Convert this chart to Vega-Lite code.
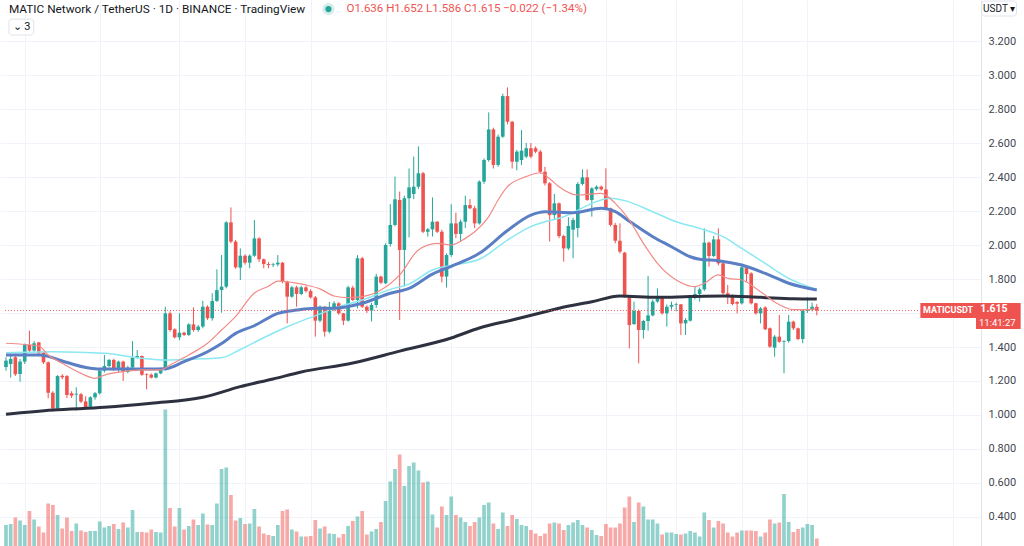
{
"$schema":"https://vega.github.io/schema/vega-lite/v6.json",
"width":981,"height":546,
"autosize":{"type":"none"},
"padding":{"left":0,"top":0,"right":43,"bottom":0},
"background":"#ffffff",
"config":{"view":{"stroke":null},"axis":{"labelFont":"Roboto","labelOverlap":false},"text":{"font":"Roboto"}},
"datasets":{
"one":[{"a":1}],
"candles":[
{"k":0,"o":1.282,"h":1.34,"l":1.26,"c":1.32,"v":70},
{"k":1,"o":1.30,"h":1.35,"l":1.22,"c":1.33,"v":72},
{"k":2,"o":1.339,"h":1.36,"l":1.23,"c":1.239,"v":85},
{"k":3,"o":1.241,"h":1.33,"l":1.196,"c":1.314,"v":79},
{"k":4,"o":1.314,"h":1.42,"l":1.30,"c":1.412,"v":70},
{"k":5,"o":1.412,"h":1.496,"l":1.37,"c":1.379,"v":98},
{"k":6,"o":1.379,"h":1.435,"l":1.37,"c":1.422,"v":81},
{"k":7,"o":1.427,"h":1.43,"l":1.35,"c":1.363,"v":67},
{"k":8,"o":1.367,"h":1.37,"l":1.30,"c":1.31,"v":55},
{"k":9,"o":1.31,"h":1.315,"l":1.098,"c":1.131,"v":113},
{"k":10,"o":1.131,"h":1.14,"l":1.02,"c":1.039,"v":110},
{"k":11,"o":1.039,"h":1.235,"l":1.035,"c":1.229,"v":90},
{"k":12,"o":1.231,"h":1.24,"l":1.21,"c":1.222,"v":63},
{"k":13,"o":1.229,"h":1.235,"l":1.10,"c":1.118,"v":85},
{"k":14,"o":1.128,"h":1.14,"l":1.10,"c":1.114,"v":58},
{"k":15,"o":1.12,"h":1.163,"l":1.026,"c":1.125,"v":73},
{"k":16,"o":1.122,"h":1.13,"l":1.07,"c":1.079,"v":59},
{"k":17,"o":1.08,"h":1.11,"l":1.04,"c":1.045,"v":56},
{"k":18,"o":1.049,"h":1.11,"l":1.045,"c":1.104,"v":58},
{"k":19,"o":1.104,"h":1.135,"l":1.09,"c":1.128,"v":58},
{"k":20,"o":1.128,"h":1.27,"l":1.12,"c":1.261,"v":77},
{"k":21,"o":1.261,"h":1.353,"l":1.25,"c":1.288,"v":65},
{"k":22,"o":1.288,"h":1.33,"l":1.28,"c":1.324,"v":68},
{"k":23,"o":1.324,"h":1.33,"l":1.26,"c":1.273,"v":72},
{"k":24,"o":1.273,"h":1.32,"l":1.25,"c":1.314,"v":62},
{"k":25,"o":1.314,"h":1.32,"l":1.20,"c":1.253,"v":75},
{"k":26,"o":1.253,"h":1.29,"l":1.245,"c":1.28,"v":65},
{"k":27,"o":1.28,"h":1.435,"l":1.27,"c":1.339,"v":100},
{"k":28,"o":1.339,"h":1.382,"l":1.33,"c":1.347,"v":56},
{"k":29,"o":1.347,"h":1.35,"l":1.23,"c":1.237,"v":56},
{"k":30,"o":1.241,"h":1.245,"l":1.151,"c":1.237,"v":55},
{"k":31,"o":1.237,"h":1.245,"l":1.215,"c":1.22,"v":61},
{"k":32,"o":1.22,"h":1.25,"l":1.215,"c":1.245,"v":56},
{"k":33,"o":1.245,"h":1.275,"l":1.24,"c":1.269,"v":55},
{"k":34,"o":1.269,"h":1.637,"l":1.26,"c":1.598,"v":301},
{"k":35,"o":1.598,"h":1.61,"l":1.49,"c":1.5,"v":104},
{"k":36,"o":1.504,"h":1.51,"l":1.45,"c":1.457,"v":67},
{"k":37,"o":1.457,"h":1.598,"l":1.44,"c":1.484,"v":104},
{"k":38,"o":1.484,"h":1.49,"l":1.465,"c":1.471,"v":61},
{"k":39,"o":1.471,"h":1.54,"l":1.465,"c":1.533,"v":68},
{"k":40,"o":1.533,"h":1.633,"l":1.49,"c":1.5,"v":81},
{"k":41,"o":1.5,"h":1.53,"l":1.49,"c":1.52,"v":70},
{"k":42,"o":1.52,"h":1.672,"l":1.51,"c":1.637,"v":93},
{"k":43,"o":1.637,"h":1.645,"l":1.56,"c":1.569,"v":71},
{"k":44,"o":1.569,"h":1.716,"l":1.555,"c":1.671,"v":70},
{"k":45,"o":1.671,"h":1.857,"l":1.665,"c":1.735,"v":113},
{"k":46,"o":1.735,"h":1.941,"l":1.602,"c":1.755,"v":182},
{"k":47,"o":1.755,"h":2.14,"l":1.745,"c":2.133,"v":185},
{"k":48,"o":2.133,"h":2.221,"l":2.01,"c":2.02,"v":130},
{"k":49,"o":2.02,"h":2.03,"l":1.86,"c":1.869,"v":79},
{"k":50,"o":1.867,"h":1.98,"l":1.794,"c":1.937,"v":84},
{"k":51,"o":1.937,"h":1.945,"l":1.885,"c":1.896,"v":72},
{"k":52,"o":1.896,"h":1.945,"l":1.863,"c":1.937,"v":73},
{"k":53,"o":1.937,"h":2.147,"l":1.93,"c":2.039,"v":102},
{"k":54,"o":2.039,"h":2.045,"l":1.90,"c":1.916,"v":67},
{"k":55,"o":1.916,"h":1.92,"l":1.863,"c":1.888,"v":53},
{"k":56,"o":1.888,"h":1.90,"l":1.863,"c":1.882,"v":50},
{"k":57,"o":1.882,"h":1.895,"l":1.87,"c":1.886,"v":48},
{"k":58,"o":1.886,"h":1.941,"l":1.875,"c":1.896,"v":70},
{"k":59,"o":1.896,"h":1.90,"l":1.775,"c":1.784,"v":98},
{"k":60,"o":1.784,"h":1.79,"l":1.539,"c":1.696,"v":101},
{"k":61,"o":1.696,"h":1.76,"l":1.69,"c":1.751,"v":61},
{"k":62,"o":1.751,"h":1.76,"l":1.637,"c":1.712,"v":57},
{"k":63,"o":1.712,"h":1.76,"l":1.705,"c":1.751,"v":47},
{"k":64,"o":1.751,"h":1.76,"l":1.72,"c":1.729,"v":47},
{"k":65,"o":1.729,"h":1.74,"l":1.685,"c":1.692,"v":48},
{"k":66,"o":1.692,"h":1.70,"l":1.461,"c":1.555,"v":80},
{"k":67,"o":1.555,"h":1.645,"l":1.545,"c":1.637,"v":63},
{"k":68,"o":1.637,"h":1.64,"l":1.461,"c":1.49,"v":67},
{"k":69,"o":1.49,"h":1.665,"l":1.48,"c":1.625,"v":53},
{"k":70,"o":1.625,"h":1.67,"l":1.61,"c":1.657,"v":52},
{"k":71,"o":1.657,"h":1.665,"l":1.59,"c":1.598,"v":45},
{"k":72,"o":1.598,"h":1.60,"l":1.529,"c":1.555,"v":52},
{"k":73,"o":1.555,"h":1.76,"l":1.55,"c":1.751,"v":68},
{"k":74,"o":1.749,"h":1.76,"l":1.67,"c":1.676,"v":78},
{"k":75,"o":1.676,"h":1.94,"l":1.627,"c":1.922,"v":87},
{"k":76,"o":1.922,"h":1.93,"l":1.63,"c":1.637,"v":98},
{"k":77,"o":1.637,"h":1.645,"l":1.60,"c":1.614,"v":51},
{"k":78,"o":1.614,"h":1.66,"l":1.55,"c":1.647,"v":57},
{"k":79,"o":1.647,"h":1.83,"l":1.63,"c":1.814,"v":62},
{"k":80,"o":1.814,"h":1.82,"l":1.77,"c":1.778,"v":76},
{"k":81,"o":1.775,"h":2.01,"l":1.77,"c":2.0,"v":118},
{"k":82,"o":2.006,"h":2.24,"l":1.99,"c":2.118,"v":157},
{"k":83,"o":2.118,"h":2.402,"l":2.11,"c":2.269,"v":182},
{"k":84,"o":2.265,"h":2.314,"l":1.559,"c":1.971,"v":211},
{"k":85,"o":1.971,"h":2.29,"l":1.755,"c":2.275,"v":148},
{"k":86,"o":2.275,"h":2.45,"l":2.045,"c":2.339,"v":188},
{"k":87,"o":2.30,"h":2.52,"l":2.27,"c":2.343,"v":195},
{"k":88,"o":2.343,"h":2.58,"l":2.33,"c":2.422,"v":179},
{"k":89,"o":2.422,"h":2.43,"l":2.07,"c":2.078,"v":155},
{"k":90,"o":2.078,"h":2.10,"l":2.05,"c":2.092,"v":157},
{"k":91,"o":2.092,"h":2.28,"l":2.05,"c":2.137,"v":91},
{"k":92,"o":2.137,"h":2.14,"l":2.07,"c":2.078,"v":65},
{"k":93,"o":2.078,"h":2.09,"l":1.78,"c":1.814,"v":107},
{"k":94,"o":1.814,"h":1.95,"l":1.75,"c":1.941,"v":90},
{"k":95,"o":1.941,"h":2.24,"l":1.93,"c":2.127,"v":127},
{"k":96,"o":2.127,"h":2.19,"l":2.04,"c":2.065,"v":90},
{"k":97,"o":2.065,"h":2.15,"l":2.02,"c":2.137,"v":85},
{"k":98,"o":2.137,"h":2.29,"l":2.10,"c":2.235,"v":76},
{"k":99,"o":2.235,"h":2.27,"l":2.21,"c":2.216,"v":68},
{"k":100,"o":2.216,"h":2.23,"l":2.10,"c":2.127,"v":76},
{"k":101,"o":2.127,"h":2.38,"l":2.12,"c":2.373,"v":85},
{"k":102,"o":2.373,"h":2.51,"l":2.36,"c":2.5,"v":110},
{"k":103,"o":2.5,"h":2.78,"l":2.49,"c":2.68,"v":115},
{"k":104,"o":2.68,"h":2.69,"l":2.45,"c":2.471,"v":73},
{"k":105,"o":2.471,"h":2.65,"l":2.46,"c":2.637,"v":62},
{"k":106,"o":2.637,"h":2.89,"l":2.63,"c":2.876,"v":95},
{"k":107,"o":2.876,"h":2.927,"l":2.71,"c":2.725,"v":68},
{"k":108,"o":2.725,"h":2.73,"l":2.45,"c":2.49,"v":90},
{"k":109,"o":2.49,"h":2.56,"l":2.44,"c":2.549,"v":82},
{"k":110,"o":2.50,"h":2.676,"l":2.47,"c":2.555,"v":70},
{"k":111,"o":2.52,"h":2.60,"l":2.51,"c":2.569,"v":68},
{"k":112,"o":2.569,"h":2.60,"l":2.51,"c":2.52,"v":60},
{"k":113,"o":2.569,"h":2.58,"l":2.54,"c":2.549,"v":53},
{"k":114,"o":2.549,"h":2.56,"l":2.42,"c":2.431,"v":48},
{"k":115,"o":2.431,"h":2.46,"l":2.35,"c":2.363,"v":53},
{"k":116,"o":2.363,"h":2.37,"l":2.02,"c":2.176,"v":73},
{"k":117,"o":2.176,"h":2.30,"l":2.15,"c":2.245,"v":75},
{"k":118,"o":2.245,"h":2.25,"l":2.04,"c":2.053,"v":73},
{"k":119,"o":2.053,"h":2.06,"l":1.902,"c":1.98,"v":60},
{"k":120,"o":1.98,"h":2.163,"l":1.97,"c":2.112,"v":70},
{"k":121,"o":2.09,"h":2.16,"l":1.922,"c":2.147,"v":75},
{"k":122,"o":2.10,"h":2.37,"l":2.045,"c":2.359,"v":80},
{"k":123,"o":2.359,"h":2.445,"l":2.35,"c":2.398,"v":70},
{"k":124,"o":2.398,"h":2.445,"l":2.26,"c":2.265,"v":65},
{"k":125,"o":2.265,"h":2.34,"l":2.167,"c":2.333,"v":60},
{"k":126,"o":2.329,"h":2.35,"l":2.32,"c":2.343,"v":50},
{"k":127,"o":2.343,"h":2.35,"l":2.32,"c":2.327,"v":48},
{"k":128,"o":2.327,"h":2.451,"l":2.21,"c":2.216,"v":72},
{"k":129,"o":2.216,"h":2.22,"l":2.11,"c":2.118,"v":65},
{"k":130,"o":2.118,"h":2.13,"l":2.01,"c":2.025,"v":65},
{"k":131,"o":2.025,"h":2.127,"l":1.95,"c":1.961,"v":73},
{"k":132,"o":1.955,"h":1.96,"l":1.69,"c":1.696,"v":105},
{"k":133,"o":1.696,"h":1.70,"l":1.392,"c":1.529,"v":127},
{"k":134,"o":1.535,"h":1.667,"l":1.53,"c":1.612,"v":76},
{"k":135,"o":1.612,"h":1.62,"l":1.304,"c":1.5,"v":115},
{"k":136,"o":1.5,"h":1.56,"l":1.45,"c":1.553,"v":107},
{"k":137,"o":1.553,"h":1.818,"l":1.496,"c":1.586,"v":81},
{"k":138,"o":1.586,"h":1.68,"l":1.58,"c":1.667,"v":81},
{"k":139,"o":1.667,"h":1.745,"l":1.66,"c":1.696,"v":73},
{"k":140,"o":1.696,"h":1.70,"l":1.59,"c":1.598,"v":51},
{"k":141,"o":1.598,"h":1.65,"l":1.52,"c":1.637,"v":55},
{"k":142,"o":1.637,"h":1.667,"l":1.62,"c":1.647,"v":55},
{"k":143,"o":1.647,"h":1.66,"l":1.61,"c":1.651,"v":52},
{"k":144,"o":1.651,"h":1.653,"l":1.471,"c":1.539,"v":51},
{"k":145,"o":1.539,"h":1.57,"l":1.471,"c":1.559,"v":53},
{"k":146,"o":1.555,"h":1.70,"l":1.55,"c":1.692,"v":58},
{"k":147,"o":1.692,"h":1.755,"l":1.68,"c":1.712,"v":55},
{"k":148,"o":1.712,"h":1.75,"l":1.667,"c":1.739,"v":47},
{"k":149,"o":1.739,"h":2.098,"l":1.73,"c":2.014,"v":95},
{"k":150,"o":2.014,"h":2.02,"l":1.873,"c":1.935,"v":80},
{"k":151,"o":1.935,"h":2.053,"l":1.93,"c":2.033,"v":65},
{"k":152,"o":2.033,"h":2.098,"l":1.88,"c":1.892,"v":78},
{"k":153,"o":1.892,"h":1.90,"l":1.71,"c":1.716,"v":73},
{"k":154,"o":1.716,"h":1.765,"l":1.653,"c":1.70,"v":55},
{"k":155,"o":1.70,"h":1.71,"l":1.645,"c":1.653,"v":47},
{"k":156,"o":1.665,"h":1.67,"l":1.598,"c":1.655,"v":55},
{"k":157,"o":1.657,"h":1.875,"l":1.65,"c":1.869,"v":59},
{"k":158,"o":1.869,"h":1.875,"l":1.784,"c":1.829,"v":59},
{"k":159,"o":1.833,"h":1.84,"l":1.65,"c":1.657,"v":59},
{"k":160,"o":1.657,"h":1.66,"l":1.59,"c":1.598,"v":58},
{"k":161,"o":1.598,"h":1.635,"l":1.539,"c":1.627,"v":47},
{"k":162,"o":1.633,"h":1.64,"l":1.50,"c":1.504,"v":55},
{"k":163,"o":1.51,"h":1.515,"l":1.395,"c":1.402,"v":81},
{"k":164,"o":1.396,"h":1.47,"l":1.343,"c":1.461,"v":73},
{"k":165,"o":1.461,"h":1.588,"l":1.425,"c":1.431,"v":75},
{"k":166,"o":1.431,"h":1.44,"l":1.245,"c":1.435,"v":132},
{"k":167,"o":1.435,"h":1.588,"l":1.425,"c":1.549,"v":76},
{"k":168,"o":1.549,"h":1.555,"l":1.50,"c":1.51,"v":56},
{"k":169,"o":1.51,"h":1.515,"l":1.44,"c":1.447,"v":62},
{"k":170,"o":1.447,"h":1.62,"l":1.422,"c":1.614,"v":65},
{"k":171,"o":1.614,"h":1.692,"l":1.60,"c":1.618,"v":72},
{"k":172,"o":1.618,"h":1.661,"l":1.61,"c":1.637,"v":70},
{"k":173,"o":1.636,"h":1.652,"l":1.586,"c":1.615,"v":43}
],
"ma20":[
{"k":0,"p":1.422},{"k":7,"p":1.406},{"k":9,"p":1.353},{"k":12,"p":1.304},{"k":16,"p":1.245},{"k":19,"p":1.216},{"k":21,"p":1.235},{"k":25,"p":1.255},{"k":29,"p":1.265},{"k":33,"p":1.265},{"k":35,"p":1.294},{"k":39,"p":1.353},{"k":43,"p":1.422},{"k":46,"p":1.5},{"k":49,"p":1.58},{"k":53,"p":1.718},{"k":56,"p":1.757},{"k":58,"p":1.788},{"k":61,"p":1.78},{"k":64,"p":1.765},{"k":67,"p":1.742},{"k":70,"p":1.7},{"k":73,"p":1.69},{"k":76,"p":1.696},{"k":80,"p":1.735},{"k":84,"p":1.824},{"k":88,"p":1.971},{"k":92,"p":2.01},{"k":95,"p":2.0},{"k":98,"p":2.039},{"k":100,"p":2.078},{"k":103,"p":2.167},{"k":105,"p":2.265},{"k":107,"p":2.343},{"k":111,"p":2.402},{"k":114,"p":2.425},{"k":116,"p":2.39},{"k":118,"p":2.343},{"k":122,"p":2.294},{"k":127,"p":2.304},{"k":130,"p":2.245},{"k":133,"p":2.147},{"k":136,"p":2.01},{"k":139,"p":1.892},{"k":143,"p":1.794},{"k":147,"p":1.755},{"k":149,"p":1.775},{"k":152,"p":1.824},{"k":154,"p":1.804},{"k":157,"p":1.794},{"k":161,"p":1.725},{"k":164,"p":1.665},{"k":168,"p":1.62},{"k":171,"p":1.62},{"k":173,"p":1.627}
],
"ma50":[
{"k":0,"p":1.353},{"k":7,"p":1.353},{"k":9,"p":1.345},{"k":12,"p":1.318},{"k":18,"p":1.275},{"k":21,"p":1.27},{"k":30,"p":1.27},{"k":34,"p":1.272},{"k":38,"p":1.314},{"k":43,"p":1.372},{"k":46,"p":1.42},{"k":49,"p":1.48},{"k":53,"p":1.525},{"k":58,"p":1.598},{"k":62,"p":1.617},{"k":66,"p":1.628},{"k":70,"p":1.628},{"k":76,"p":1.657},{"k":82,"p":1.716},{"k":86,"p":1.745},{"k":91,"p":1.829},{"k":95,"p":1.875},{"k":101,"p":1.951},{"k":107,"p":2.085},{"k":112,"p":2.176},{"k":115,"p":2.196},{"k":118,"p":2.192},{"k":121,"p":2.19},{"k":127,"p":2.216},{"k":130,"p":2.196},{"k":133,"p":2.14},{"k":138,"p":2.049},{"k":142,"p":1.99},{"k":146,"p":1.931},{"k":148,"p":1.916},{"k":152,"p":1.908},{"k":157,"p":1.882},{"k":162,"p":1.833},{"k":167,"p":1.775},{"k":173,"p":1.735}
],
"ma100":[
{"k":0,"p":1.366},{"k":10,"p":1.372},{"k":21,"p":1.363},{"k":29,"p":1.334},{"k":34,"p":1.324},{"k":39,"p":1.328},{"k":46,"p":1.337},{"k":50,"p":1.385},{"k":54,"p":1.441},{"k":60,"p":1.519},{"k":67,"p":1.595},{"k":70,"p":1.628},{"k":76,"p":1.676},{"k":82,"p":1.739},{"k":86,"p":1.77},{"k":91,"p":1.853},{"k":95,"p":1.88},{"k":101,"p":1.916},{"k":107,"p":2.029},{"k":112,"p":2.108},{"k":115,"p":2.137},{"k":118,"p":2.157},{"k":121,"p":2.19},{"k":125,"p":2.245},{"k":129,"p":2.275},{"k":132,"p":2.261},{"k":138,"p":2.196},{"k":143,"p":2.137},{"k":148,"p":2.098},{"k":153,"p":2.049},{"k":157,"p":1.98},{"k":162,"p":1.892},{"k":167,"p":1.804},{"k":173,"p":1.739}
],
"ma200":[
{"k":0,"p":1.004},{"k":10,"p":1.029},{"k":21,"p":1.045},{"k":31,"p":1.069},{"k":42,"p":1.104},{"k":50,"p":1.167},{"k":57,"p":1.212},{"k":63,"p":1.253},{"k":74,"p":1.306},{"k":84,"p":1.376},{"k":95,"p":1.453},{"k":101,"p":1.512},{"k":108,"p":1.559},{"k":114,"p":1.6},{"k":118,"p":1.628},{"k":125,"p":1.666},{"k":131,"p":1.7},{"k":139,"p":1.692},{"k":146,"p":1.697},{"k":153,"p":1.7},{"k":161,"p":1.692},{"k":168,"p":1.684},{"k":173,"p":1.682}
]
},
"resolve":{"scale":{"y":"independent"}},
"layer":[
{"data":{"name":"candles"},
 "mark":{"type":"bar","width":3.7,"clip":true,"opacity":0.5},
 "encoding":{
  "x":{"field":"k","type":"quantitative","title":null,"scale":{"domain":[-0.211,206.97],"nice":false,"zero":false},
       "axis":{"values":[4,20,37,51,65,81,95,112,128,143,157,171,202],"tickCount":30,"grid":true,"gridColor":"#f0f3fa","gridWidth":1,"labels":false,"ticks":false,"domain":false,"title":null}},
  "y":{"field":"v","type":"quantitative","title":null,"scale":{"domain":[28,1120],"nice":false,"zero":false},"axis":null},
  "y2":{"datum":0},
  "color":{"condition":{"test":"datum.c >= datum.o","value":"#26a69a"},"value":"#ef5350"}
 }},
{"layer":[
 {"data":{"name":"candles"},
  "mark":{"type":"rule","strokeWidth":1},
  "encoding":{
   "x":{"field":"k","type":"quantitative","title":null,"scale":{"domain":[-0.211,206.97],"nice":false,"zero":false}},
   "y":{"field":"l","type":"quantitative","title":null,"scale":{"domain":[0.2294,3.4412],"nice":false,"zero":false},
        "axis":{"orient":"right","values":[0.4,0.6,0.8,1.0,1.2,1.4,1.6,1.8,2.0,2.2,2.4,2.6,2.8,3.0,3.2],"tickCount":30,"format":".3f","labelExpr":"abs(datum.value - 1.6) < 0.01 ? '' : datum.label","labelOverlap":false,"grid":true,"gridColor":"#f0f3fa","ticks":false,"domain":true,"domainColor":"#e0e3eb","labelPadding":7,"labelFontSize":11,"labelColor":"#434651","title":null}},
   "y2":{"field":"h"},
   "color":{"condition":{"test":"datum.c >= datum.o","value":"#26a69a"},"value":"#ef5350"}
  }},
 {"data":{"name":"candles"},
  "mark":{"type":"bar","width":3.6},
  "encoding":{
   "x":{"field":"k","type":"quantitative","title":null,"scale":{"domain":[-0.211,206.97],"nice":false,"zero":false}},
   "y":{"field":"o","type":"quantitative","title":null,"scale":{"domain":[0.2294,3.4412],"nice":false,"zero":false}},
   "y2":{"field":"c"},
   "color":{"condition":{"test":"datum.c >= datum.o","value":"#26a69a"},"value":"#ef5350"}
  }},
 {"data":{"name":"ma100"},
  "mark":{"type":"line","interpolate":"monotone","color":"#8ae8f2","strokeWidth":1.5},
  "encoding":{
   "x":{"field":"k","type":"quantitative","title":null,"scale":{"domain":[-0.211,206.97],"nice":false,"zero":false}},
   "y":{"field":"p","type":"quantitative","title":null,"scale":{"domain":[0.2294,3.4412],"nice":false,"zero":false}}}},
 {"data":{"name":"ma50"},
  "mark":{"type":"line","interpolate":"monotone","color":"#5b7fc4","strokeWidth":3},
  "encoding":{
   "x":{"field":"k","type":"quantitative","title":null,"scale":{"domain":[-0.211,206.97],"nice":false,"zero":false}},
   "y":{"field":"p","type":"quantitative","title":null,"scale":{"domain":[0.2294,3.4412],"nice":false,"zero":false}}}},
 {"data":{"name":"ma200"},
  "mark":{"type":"line","interpolate":"monotone","color":"#2e3240","strokeWidth":3},
  "encoding":{
   "x":{"field":"k","type":"quantitative","title":null,"scale":{"domain":[-0.211,206.97],"nice":false,"zero":false}},
   "y":{"field":"p","type":"quantitative","title":null,"scale":{"domain":[0.2294,3.4412],"nice":false,"zero":false}}}},
 {"data":{"name":"ma20"},
  "mark":{"type":"line","interpolate":"monotone","color":"#f28b86","strokeWidth":1.2},
  "encoding":{
   "x":{"field":"k","type":"quantitative","title":null,"scale":{"domain":[-0.211,206.97],"nice":false,"zero":false}},
   "y":{"field":"p","type":"quantitative","title":null,"scale":{"domain":[0.2294,3.4412],"nice":false,"zero":false}}}},
 {"data":{"name":"one"},
  "mark":{"type":"rule","color":"#ef5350","strokeDash":[1,2],"strokeWidth":1,"opacity":0.9},
  "encoding":{
   "x":{"datum":-0.211,"type":"quantitative","scale":{"domain":[-0.211,206.97],"nice":false,"zero":false}},
   "x2":{"datum":195.1},
   "y":{"datum":1.615,"type":"quantitative","scale":{"domain":[0.2294,3.4412],"nice":false,"zero":false}}}},
 {"data":{"name":"one"},
  "mark":{"type":"rect","color":"#ef5350"},
  "encoding":{
   "x":{"datum":195.1,"type":"quantitative","scale":{"domain":[-0.211,206.97],"nice":false,"zero":false}},
   "x2":{"datum":206.97},
   "y":{"datum":1.659,"type":"quantitative","scale":{"domain":[0.2294,3.4412],"nice":false,"zero":false}},
   "y2":{"datum":1.571}}},
 {"data":{"name":"one"},
  "mark":{"type":"text","text":"MATICUSDT","color":"#ffffff","fontSize":9,"fontWeight":"bold","align":"center","baseline":"middle"},
  "encoding":{
   "x":{"datum":201.0,"type":"quantitative","scale":{"domain":[-0.211,206.97],"nice":false,"zero":false}},
   "y":{"datum":1.615,"type":"quantitative","scale":{"domain":[0.2294,3.4412],"nice":false,"zero":false}}}},
 {"data":{"name":"one"},
  "mark":{"type":"rect","color":"#ef5350"},
  "encoding":{
   "x":{"datum":206.97,"type":"quantitative","scale":{"domain":[-0.211,206.97],"nice":false,"zero":false}},
   "x2":{"datum":216.5},
   "y":{"datum":1.659,"type":"quantitative","scale":{"domain":[0.2294,3.4412],"nice":false,"zero":false}},
   "y2":{"datum":1.506}}},
 {"data":{"name":"one"},
  "mark":{"type":"text","text":"1.615","color":"#ffffff","fontSize":10.5,"fontWeight":"bold","align":"left","baseline":"middle"},
  "encoding":{
   "x":{"datum":207.9,"type":"quantitative","scale":{"domain":[-0.211,206.97],"nice":false,"zero":false}},
   "y":{"datum":1.622,"type":"quantitative","scale":{"domain":[0.2294,3.4412],"nice":false,"zero":false}}}},
 {"data":{"name":"one"},
  "mark":{"type":"text","text":"11:41:27","color":"#ffffff","fontSize":9.5,"align":"left","baseline":"middle"},
  "encoding":{
   "x":{"datum":207.6,"type":"quantitative","scale":{"domain":[-0.211,206.97],"nice":false,"zero":false}},
   "y":{"datum":1.541,"type":"quantitative","scale":{"domain":[0.2294,3.4412],"nice":false,"zero":false}}}},
 {"data":{"name":"one"},
  "mark":{"type":"text","text":"MATIC Network / TetherUS · 1D · BINANCE · TradingView","color":"#131722","fontSize":11.8,"align":"left","baseline":"middle"},
  "encoding":{
   "x":{"datum":0.634,"type":"quantitative","scale":{"domain":[-0.211,206.97],"nice":false,"zero":false}},
   "y":{"datum":3.388,"type":"quantitative","scale":{"domain":[0.2294,3.4412],"nice":false,"zero":false}}}},
 {"data":{"name":"one"},
  "mark":{"type":"point","filled":true,"color":"#26a69a","size":150,"opacity":0.2},
  "encoding":{
   "x":{"datum":68.8,"type":"quantitative","scale":{"domain":[-0.211,206.97],"nice":false,"zero":false}},
   "y":{"datum":3.388,"type":"quantitative","scale":{"domain":[0.2294,3.4412],"nice":false,"zero":false}}}},
 {"data":{"name":"one"},
  "mark":{"type":"point","filled":true,"color":"#26a69a","size":38,"opacity":1},
  "encoding":{
   "x":{"datum":68.8,"type":"quantitative","scale":{"domain":[-0.211,206.97],"nice":false,"zero":false}},
   "y":{"datum":3.388,"type":"quantitative","scale":{"domain":[0.2294,3.4412],"nice":false,"zero":false}}}},
 {"data":{"name":"one"},
  "mark":{"type":"text","text":"O1.636 H1.652 L1.586 C1.615 −0.022 (−1.34%)","color":"#ef5350","fontSize":11.5,"align":"left","baseline":"middle"},
  "encoding":{
   "x":{"datum":72.65,"type":"quantitative","scale":{"domain":[-0.211,206.97],"nice":false,"zero":false}},
   "y":{"datum":3.388,"type":"quantitative","scale":{"domain":[0.2294,3.4412],"nice":false,"zero":false}}}},
 {"data":{"name":"one"},
  "mark":{"type":"rect","fill":"#ffffff","stroke":"#e0e3eb","strokeWidth":1,"cornerRadius":3},
  "encoding":{
   "x":{"datum":0.634,"type":"quantitative","scale":{"domain":[-0.211,206.97],"nice":false,"zero":false}},
   "x2":{"datum":5.91},
   "y":{"datum":3.329,"type":"quantitative","scale":{"domain":[0.2294,3.4412],"nice":false,"zero":false}},
   "y2":{"datum":3.235}}},
 {"data":{"name":"one"},
  "mark":{"type":"text","text":"⌄ 3","color":"#131722","fontSize":11,"align":"center","baseline":"middle"},
  "encoding":{
   "x":{"datum":3.3,"type":"quantitative","scale":{"domain":[-0.211,206.97],"nice":false,"zero":false}},
   "y":{"datum":3.282,"type":"quantitative","scale":{"domain":[0.2294,3.4412],"nice":false,"zero":false}}}},
 {"data":{"name":"one"},
  "mark":{"type":"rect","fill":"#ffffff","stroke":"#e0e3eb","strokeWidth":1,"cornerRadius":3},
  "encoding":{
   "x":{"datum":208.2,"type":"quantitative","scale":{"domain":[-0.211,206.97],"nice":false,"zero":false}},
   "x2":{"datum":215.6},
   "y":{"datum":3.435,"type":"quantitative","scale":{"domain":[0.2294,3.4412],"nice":false,"zero":false}},
   "y2":{"datum":3.347}}},
 {"data":{"name":"one"},
  "mark":{"type":"text","text":"USDT ▾","color":"#131722","fontSize":10,"align":"center","baseline":"middle"},
  "encoding":{
   "x":{"datum":211.9,"type":"quantitative","scale":{"domain":[-0.211,206.97],"nice":false,"zero":false}},
   "y":{"datum":3.39,"type":"quantitative","scale":{"domain":[0.2294,3.4412],"nice":false,"zero":false}}}}
]}
]
}
